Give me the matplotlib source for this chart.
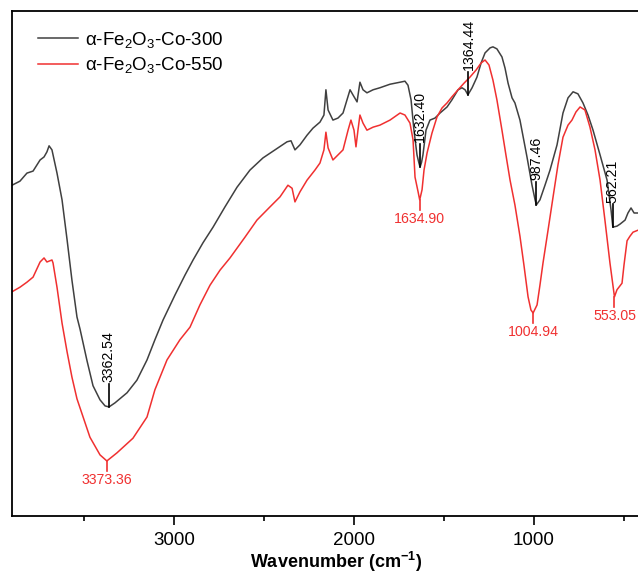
import matplotlib
matplotlib.use("Agg")
import matplotlib.pyplot as plt
from matplotlib.ticker import MultipleLocator

plt.rcParams['font.family'] = ['Liberation Sans', 'DejaVu Sans']
plt.rcParams['mathtext.fontset'] = 'custom'
plt.rcParams['mathtext.rm'] = 'Liberation Sans'
plt.rcParams['mathtext.it'] = 'Liberation Sans:italic'
plt.rcParams['mathtext.bf'] = 'Liberation Sans:bold'

# spectra (wavenumber, relative transmittance)
wn_300 = [3900, 3856, 3817, 3783, 3744, 3722, 3706, 3694, 3678, 3650, 3622, 3594,
          3567, 3539, 3522, 3483, 3450, 3411, 3383, 3361, 3328, 3261, 3206, 3150,
          3106, 3061, 2994, 2939, 2894, 2839, 2783, 2717, 2650, 2578, 2506, 2439,
          2372, 2350, 2328, 2300, 2261, 2228, 2189, 2167, 2156, 2144, 2117, 2089,
          2061, 2039, 2022, 2006, 1983, 1967, 1950, 1928, 1894, 1856, 1800, 1744,
          1717, 1700, 1683, 1667, 1650, 1640, 1633, 1625, 1617, 1600, 1578, 1550, 1522, 1483,
          1456, 1422, 1400, 1383, 1367, 1344, 1317, 1294, 1272, 1244, 1228, 1206,
          1178, 1161, 1144, 1122, 1106, 1078, 1039, 1011, 994, 987, 967, 939, 911,
          872, 839, 811, 783, 756, 728, 700, 672, 633, 594, 572, 562, 539, 522,
          494, 478, 461, 444, 422]
t_300 = [65.5, 66.3, 67.9, 68.3, 70.5, 71.1, 72.1, 73.3, 72.5, 67.9, 62.6, 54.7,
         46.7, 39.4, 37.0, 30.7, 25.8, 23.0, 21.8, 21.6, 22.4, 24.4, 26.9, 30.9,
         34.9, 38.8, 43.8, 47.7, 50.7, 54.1, 57.2, 61.2, 65.1, 68.5, 70.9, 72.5,
         74.1, 74.3, 72.5, 73.5, 75.4, 76.8, 78.0, 79.4, 84.4, 80.4, 78.4, 78.8,
         79.8, 82.4, 84.4, 83.4, 82.0, 85.9, 84.4, 83.8, 84.4, 84.8, 85.5, 85.9,
         86.1, 85.3, 82.4, 76.4, 71.5, 70.0, 69.1, 70.0, 71.5, 76.4, 78.4, 78.8, 79.8, 81.0,
         82.4, 84.4, 84.8, 84.4, 83.4, 84.8, 86.9, 89.7, 91.7, 92.7, 92.9, 92.5,
         90.9, 88.7, 85.7, 82.8, 81.8, 78.4, 71.1, 65.5, 62.6, 61.6, 62.6, 65.5, 68.5,
         73.5, 79.8, 82.8, 84.0, 83.6, 81.8, 79.4, 76.4, 71.5, 66.5, 60.6, 57.2, 57.4, 57.8,
         58.6, 60.0, 61.0, 60.0, 60.0]

wn_550 = [3900, 3856, 3817, 3783, 3744, 3722, 3706, 3678, 3672, 3650, 3622, 3594,
          3567, 3539, 3522, 3467, 3411, 3373, 3317, 3228, 3150, 3106, 3039, 2967,
          2911, 2856, 2800, 2744, 2689, 2606, 2539, 2467, 2411, 2367, 2344, 2328,
          2300, 2261, 2217, 2189, 2167, 2156, 2144, 2117, 2089, 2061, 2033, 2017,
          2000, 1989, 1978, 1967, 1950, 1928, 1894, 1856, 1800, 1744, 1717, 1689,
          1672, 1661, 1644, 1635, 1622, 1611, 1594, 1567, 1539, 1511, 1483, 1456,
          1422, 1389, 1356, 1322, 1294, 1272, 1250, 1228, 1206, 1178, 1156, 1133,
          1106, 1078, 1056, 1033, 1017, 1005, 983, 967, 950, 922, 894, 867, 839,
          811, 789, 767, 744, 717, 689, 661, 633, 606, 578, 553, 539, 511, 500,
          483, 467, 450, 422]
t_550 = [44.4, 45.3, 46.3, 47.3, 50.3, 51.1, 50.3, 50.7, 50.1, 45.3, 38.2, 32.5,
         27.5, 23.2, 21.4, 15.6, 12.1, 10.9, 12.5, 15.4, 19.6, 25.0, 30.9, 34.9,
         37.4, 41.8, 45.7, 48.7, 51.1, 55.2, 58.6, 61.2, 63.2, 65.5, 64.9, 62.2,
         64.2, 66.5, 68.5, 69.9, 72.5, 76.0, 72.9, 70.5, 71.5, 72.5, 76.4, 78.4,
         76.4, 73.1, 76.4, 79.4, 77.8, 76.4, 77.0, 77.4, 78.4, 79.8, 79.4, 77.8,
         74.5, 67.1, 64.2, 62.6, 64.6, 68.5, 71.9, 75.8, 79.0, 80.8, 81.8, 83.0,
         84.4, 85.7, 86.9, 88.3, 89.7, 90.3, 89.3, 86.3, 82.4, 76.4, 71.5, 66.5,
         61.6, 55.4, 49.7, 43.4, 40.8, 40.2, 41.8, 45.7, 50.1, 56.6, 63.2, 69.5, 75.0,
         77.4, 78.4, 80.0, 81.0, 80.4, 77.0, 72.5, 66.5, 58.6, 50.1, 43.4, 44.8, 46.1, 49.7,
         54.5, 55.4, 56.2, 56.6]

# peak labels: (position, curve minimum, label)
peaks_300 = [(3362.54, 21.6, '3362.54'), (1632.40, 69.1, '1632.40'),
             (1364.44, 83.4, '1364.44'), (987.46, 61.6, '987.46'),
             (562.21, 57.2, '562.21')]
peaks_550 = [(3373.36, 10.9, '3373.36'), (1634.90, 62.6, '1634.90'),
             (1004.94, 40.2, '1004.94'), (553.05, 43.4, '553.05')]

c300 = '#404040'
c550 = '#f03030'

fig = plt.figure(figsize=(6.38, 5.74), dpi=100)
ax = fig.add_axes([12/638, 58/574, 648/638, 505/574])

ax.plot(wn_300, t_300, color=c300, lw=1.1, label=r'α-Fe$_2$O$_3$-Co-300')
ax.plot(wn_550, t_550, color=c550, lw=1.1, label=r'α-Fe$_2$O$_3$-Co-550')

for x, y, s in peaks_300:
    ax.plot([x, x], [y, y + 4.6], color='black', lw=1.2)
    ax.annotate(s, (x, y + 4.6), xytext=(0, 1), textcoords='offset points',
                rotation=90, ha='center', va='bottom', fontsize=10.2, color='black')
for x, y, s in peaks_550:
    ax.plot([x, x], [y, y - 2.0], color=c550, lw=1.2)
    ax.annotate(s, (x, y - 2.0), xytext=(0, -1.5), textcoords='offset points',
                ha='center', va='top', fontsize=10.2, color=c550)

ax.set_xlim(3900, 300)
ax.set_ylim(0, 100)
ax.xaxis.set_major_locator(MultipleLocator(1000))
ax.xaxis.set_minor_locator(MultipleLocator(500))
ax.tick_params(axis='x', which='major', direction='out', length=6.5, width=1.2,
               labelsize=13.5, pad=5)
ax.tick_params(axis='x', which='minor', direction='out', length=3.5, width=1.2)
ax.set_yticks([])
for sp in ax.spines.values():
    sp.set_linewidth(1.3)
ax.spines['right'].set_visible(False)

ax.set_xlabel(r'Wavenumber (cm$^{\mathbf{-1}}$)', fontsize=13, fontweight='bold',
              labelpad=1)

ax.legend(loc='upper left', bbox_to_anchor=(7/648, 1.0), frameon=False, fontsize=13.5,
          handlelength=2.15, handletextpad=0.35, labelspacing=0.3,
          borderaxespad=0.6)

fig.savefig('out.png', dpi=100)
